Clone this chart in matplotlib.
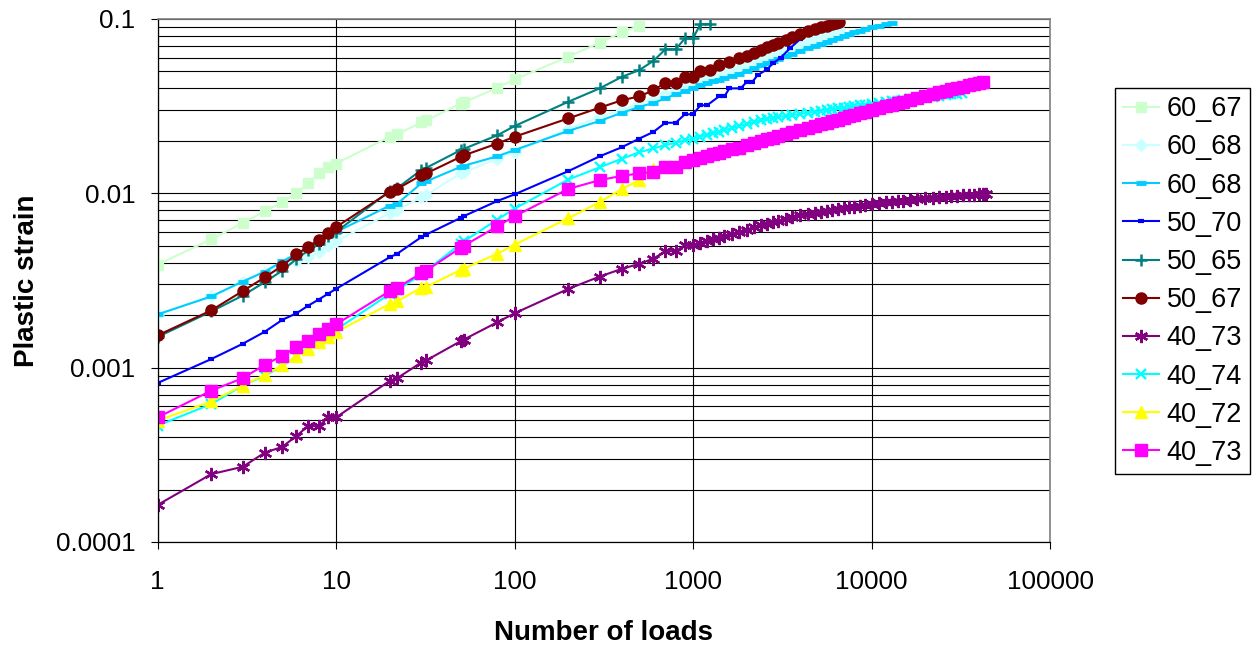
import matplotlib
matplotlib.use("Agg")
import matplotlib.pyplot as plt
from matplotlib.ticker import NullLocator

plt.rcParams['font.family'] = ['Liberation Sans', 'DejaVu Sans']

# number of loads used by every series for the first part of the test
n_low = [1, 2, 3, 4, 5, 6, 7, 8, 9, 10, 20, 22, 30, 32, 50, 52, 80, 100, 200, 300, 400, 500]

# 60_67
n_60_67 = n_low
e_60_67 = [0.0039, 0.00545, 0.00675, 0.0079, 0.0089, 0.0100, 0.0114, 0.0130, 0.0142, 0.0148,
           0.0211, 0.0218, 0.0255, 0.0262, 0.0327, 0.0332, 0.0403, 0.045, 0.0607, 0.0731,
           0.0839, 0.0915]

# 60_68 (light)
n_60_68a = n_low + [600, 700, 800, 900, 1000, 1100, 1200, 1300, 1400, 1500, 1650, 1800, 2000,
                    2200, 2400, 2600, 2800, 3000, 3300, 3600, 4000, 4400, 4800, 5200, 5600,
                    6000, 6600]
e_60_68a = [0.00202, 0.00256, 0.0031, 0.0035, 0.0039, 0.0041, 0.0043, 0.0046, 0.0050, 0.0053,
            0.0077, 0.0080, 0.0095, 0.0098, 0.0130, 0.0132, 0.0158, 0.0172, 0.0235, 0.0275,
            0.030, 0.033,
            0.0345, 0.037, 0.039, 0.041, 0.043, 0.0443, 0.0455, 0.0467, 0.0478, 0.0488, 0.0503,
            0.0517, 0.0539, 0.0560, 0.0581, 0.0600, 0.0618, 0.0636, 0.0661, 0.0685, 0.0716,
            0.0744, 0.0771, 0.0797, 0.0822, 0.0846, 0.088]

# 60_68
n_60_68b = n_low + [600, 700, 800, 900, 1000, 1100, 1200, 1300, 1400, 1500, 1650, 1800, 2000,
                    2200, 2400, 2600, 2800, 3000, 3300, 3600, 4000, 4400, 4800, 5200, 5600,
                    6000, 6500, 7000, 7500, 8000, 8600, 9200, 10000, 11000, 12000, 13000]
e_60_68b = [0.00202, 0.00256, 0.00312, 0.00356, 0.00407, 0.0045, 0.0049, 0.0053, 0.0057, 0.0060,
            0.0085, 0.0087, 0.0114, 0.0117, 0.0142, 0.0144, 0.0163, 0.0177, 0.0228, 0.026,
            0.029, 0.0313,
            0.033, 0.035, 0.037, 0.0385, 0.0404, 0.0416, 0.0428, 0.0438, 0.0449, 0.0458, 0.0472,
            0.0485, 0.0505, 0.0524, 0.0541, 0.0558, 0.0574, 0.0590, 0.0612, 0.0633, 0.0659,
            0.0683, 0.0704, 0.0723, 0.0742, 0.0759, 0.0780, 0.0800, 0.0819, 0.0837, 0.0858,
            0.0878, 0.0903, 0.0917, 0.0930, 0.0943]

# 50_70
n_50_70 = n_low + [600, 700, 800, 900, 1000, 1100, 1200, 1400, 1500, 1600, 1850, 2000, 2150,
                   2300, 2600, 2800, 3100, 3500, 4000, 4600]
e_50_70 = [0.000816, 0.00112, 0.00137, 0.00161, 0.00188, 0.00205, 0.00227, 0.00246, 0.00265,
           0.00283, 0.0043, 0.0045, 0.0056, 0.0058, 0.00724, 0.0074, 0.00903, 0.00986, 0.0134,
           0.0163, 0.0184, 0.0206,
           0.0225, 0.0254, 0.0254, 0.0284, 0.0284, 0.032, 0.032, 0.036, 0.036, 0.040, 0.040,
           0.0436, 0.0436, 0.0476, 0.0514, 0.0556, 0.060, 0.068, 0.077, 0.087]

# 50_65
n_50_65 = n_low + [600, 700, 800, 900, 1000, 1100, 1250]
e_50_65 = [0.00150, 0.0021, 0.00259, 0.0031, 0.0036, 0.0042, 0.0047, 0.0051, 0.0057, 0.0060,
           0.0103, 0.0107, 0.0136, 0.0140, 0.0177, 0.018, 0.0215, 0.0243, 0.0335, 0.040,
           0.0466, 0.0509,
           0.0575, 0.067, 0.067, 0.0774, 0.0774, 0.0936, 0.0936]

# 50_67
n_50_67 = n_low + [600, 700, 800, 900, 1000, 1100, 1250, 1400, 1600, 1800, 2000, 2200, 2400,
                   2600, 2800, 3000, 3300, 3600, 4000, 4400, 4800, 5200, 5600, 6000, 6300, 6600]
e_50_67 = [0.00153, 0.00213, 0.00275, 0.0033, 0.00384, 0.00446, 0.00495, 0.00542, 0.00594,
           0.0064, 0.0102, 0.0106, 0.0127, 0.0130, 0.0162, 0.0165, 0.0193, 0.0211, 0.0269,
           0.031, 0.0342, 0.036,
           0.039, 0.043, 0.043, 0.0466, 0.0466, 0.0502, 0.051, 0.0544, 0.057, 0.0594, 0.0616,
           0.0641, 0.0664, 0.0687, 0.0708, 0.0728, 0.0757, 0.0784, 0.0818, 0.0849, 0.0872,
           0.0894, 0.0914, 0.0934, 0.0949, 0.0965]

# 40_73 (purple)
n_40_73a = n_low + [600, 700, 800, 900, 1000, 1100, 1200, 1300, 1400, 1500, 1650, 1800, 2000,
                    2200, 2400, 2600, 2800, 3000, 3300, 3600, 4000, 4400, 4800, 5200, 5600,
                    6000, 6500, 7000, 7500, 8000, 8600, 9200, 10000, 11000, 12000, 13000,
                    14000, 15000, 16500, 18000, 20000, 22000, 24000, 26000, 28000, 30000,
                    32500, 35000, 37500, 40000, 42000, 44000]
e_40_73a = [0.000163, 0.000245, 0.00027, 0.000326, 0.000351, 0.000406, 0.000464, 0.00046,
            0.000518, 0.000518, 0.00084, 0.00087, 0.00107, 0.0011, 0.00142, 0.00145, 0.00182,
            0.00205, 0.00283, 0.00333, 0.00369, 0.00394,
            0.00422, 0.00466, 0.00466, 0.00502, 0.00502, 0.00517, 0.00531, 0.00544, 0.00556,
            0.00568, 0.00585, 0.0060, 0.0062, 0.00638, 0.00655, 0.0067, 0.00684, 0.00696,
            0.00713, 0.00729, 0.00748, 0.0076, 0.00771, 0.00781, 0.00791, 0.0080, 0.00811,
            0.00821, 0.0083, 0.00839, 0.00849, 0.00858, 0.0087, 0.00879, 0.00887, 0.00894,
            0.00901, 0.00907, 0.00916, 0.00924, 0.00934, 0.00944, 0.0095, 0.00955, 0.00961,
            0.00966, 0.00972, 0.00977, 0.00982, 0.00987, 0.00991, 0.00995]

# 40_74
n_40_74 = n_low + [600, 700, 800, 900, 1000, 1100, 1200, 1300, 1400, 1500, 1650, 1800, 2000,
                   2200, 2400, 2600, 2800, 3000, 3300, 3600, 4000, 4400, 4800, 5200, 5600,
                   6000, 6500, 7000, 7500, 8000, 8600, 9200, 10000, 11000, 12000, 13000,
                   14000, 15000, 16500, 18000, 20000, 22000, 24000, 26000, 28000, 30000, 32000]
e_40_74 = [0.000465, 0.000618, 0.00079, 0.0009, 0.00102, 0.00116, 0.0013, 0.00143, 0.00155,
           0.00165, 0.00265, 0.0028, 0.0034, 0.0036, 0.00514, 0.0053, 0.00706, 0.00816, 0.012,
           0.0141, 0.0158, 0.0172,
           0.0181, 0.0189, 0.0195, 0.0201, 0.0206, 0.02116, 0.02167, 0.02215, 0.02262, 0.02305,
           0.02367, 0.02425, 0.02497, 0.02563, 0.02625, 0.0268, 0.02711, 0.02738, 0.02777,
           0.02813, 0.02857, 0.02897, 0.02934, 0.02969, 0.03002, 0.03032, 0.03068, 0.03102,
           0.03133, 0.03163, 0.03197, 0.03229, 0.0327, 0.03307, 0.03341, 0.03373, 0.03402,
           0.0343, 0.03469, 0.03505, 0.03549, 0.03589, 0.03626, 0.03661, 0.03693, 0.03723,
           0.03751]

# 40_72
n_40_72 = n_low + [600]
e_40_72 = [0.000496, 0.00064, 0.00079, 0.00091, 0.00103, 0.00116, 0.00128, 0.0014, 0.00149,
           0.0016, 0.00232, 0.0024, 0.00287, 0.0029, 0.00364, 0.0037, 0.0045, 0.00507, 0.0072,
           0.0089, 0.0106, 0.0119, 0.0138]

# 40_73 (magenta)
n_40_73b = n_low + [600, 700, 800, 900, 1000, 1100, 1200, 1300, 1400, 1500, 1650, 1800, 2000,
                    2200, 2400, 2600, 2800, 3000, 3300, 3600, 4000, 4400, 4800, 5200, 5600,
                    6000, 6500, 7000, 7500, 8000, 8600, 9200, 10000, 11000, 12000, 13000,
                    14000, 15000, 16500, 18000, 20000, 22000, 24000, 26000, 28000, 30000,
                    32500, 35000, 37500, 40000, 42000]
e_40_73b = [0.000518, 0.000738, 0.00087, 0.00104, 0.00117, 0.00131, 0.00142, 0.00157, 0.00167,
            0.00177, 0.00275, 0.00287, 0.00348, 0.0036, 0.00488, 0.005, 0.00646, 0.00738,
            0.0106, 0.0119, 0.0126, 0.0130,
            0.0133, 0.0142, 0.0142, 0.0151, 0.0155, 0.0159, 0.0163, 0.0167, 0.0171, 0.0174,
            0.0179, 0.0183, 0.0189, 0.0194, 0.0199, 0.0204, 0.0208, 0.0212, 0.0218, 0.0224,
            0.0231, 0.0237, 0.0243, 0.0249, 0.0254, 0.0259, 0.0265, 0.0271, 0.0276, 0.0281,
            0.0287, 0.0293, 0.030, 0.0308, 0.0316, 0.0323, 0.0329, 0.0336, 0.0345, 0.0353,
            0.0364, 0.0373, 0.0381, 0.0388, 0.0395, 0.0402, 0.0409, 0.0417, 0.0424, 0.0430,
            0.0435]

fig = plt.figure(figsize=(12.56, 6.48), dpi=100)
ax = fig.add_axes([0.1254, 0.1636, 0.7106, 0.8071])

lw = 1.5
ax.plot(n_60_67, e_60_67, color="#CCFFCC", lw=lw, marker="s", ms=7, label="60_67")
ax.plot(n_60_68a, e_60_68a, color="#CCFFFF", lw=lw, marker="D", ms=6, label="60_68")
ax.plot(n_60_68b, e_60_68b, color="#00CCFF", lw=lw, marker="_", ms=7.5, mew=3.5, label="60_68")
ax.plot(n_50_70, e_50_70, color="#0000FF", lw=lw, marker="_", ms=5, mew=3, label="50_70")
ax.plot(n_50_65, e_50_65, color="#008080", lw=lw, marker="+", ms=9, mew=1.8, label="50_65")
ax.plot(n_50_67, e_50_67, color="#800000", lw=lw, marker="o", ms=8, label="50_67")
ax.plot(n_40_73a, e_40_73a, color="#800080", lw=lw, marker=(6, 2, 0), ms=9.5, mew=1.7, label="40_73")
ax.plot(n_40_74, e_40_74, color="#00FFFF", lw=lw, marker="x", ms=7.5, mew=1.7, label="40_74")
ax.plot(n_40_72, e_40_72, color="#FFFF00", lw=lw, marker="^", ms=8, label="40_72")
ax.plot(n_40_73b, e_40_73b, color="#FF00FF", lw=lw, marker="s", ms=8, label="40_73")

ax.set_xscale("log")
ax.set_yscale("log")
ax.set_xlim(1, 100000)
ax.set_ylim(0.0001, 0.1)

ax.set_xticks([1, 10, 100, 1000, 10000, 100000],
              labels=["1", "10", "100", "1000", "10000", "100000"])
ax.set_yticks([0.0001, 0.001, 0.01, 0.1], labels=["0.0001", "0.001", "0.01", "0.1"])
ax.xaxis.set_minor_locator(NullLocator())
ax.set_yticks([m * d for d in [0.0001, 0.001, 0.01] for m in range(2, 10)], minor=True)

ax.grid(True, which="major", color="black", lw=0.8)
ax.grid(True, which="minor", axis="y", color="black", lw=0.8)
ax.set_axisbelow(True)

ax.tick_params(axis="both", which="major", direction="out", length=5, width=0.8,
               labelsize=18.7, color="black")
ax.tick_params(axis="x", which="major", pad=15)
ax.tick_params(axis="y", which="major", pad=11)
ax.tick_params(axis="y", which="minor", length=0)

for side in ["left", "bottom"]:
    ax.spines[side].set_color("black")
    ax.spines[side].set_linewidth(0.9)
for side in ["top", "right"]:
    ax.spines[side].set_color("#808080")
    ax.spines[side].set_linewidth(1.2)

ax.set_xlabel("Number of loads", fontsize=20, fontweight="bold", labelpad=19)
ax.set_ylabel("Plastic strain", fontsize=20, fontweight="bold", labelpad=11)

leg = ax.legend(loc="upper left", bbox_to_anchor=(0.888, 0.864), bbox_transform=fig.transFigure,
                borderaxespad=0, fontsize=19.5, frameon=True, fancybox=False, shadow=False,
                edgecolor="black", framealpha=1, handlelength=1.3, handletextpad=0.3,
                labelspacing=0.45, borderpad=0.3)
leg.get_frame().set_linewidth(1.0)

fig.savefig("out.png", dpi=100)
